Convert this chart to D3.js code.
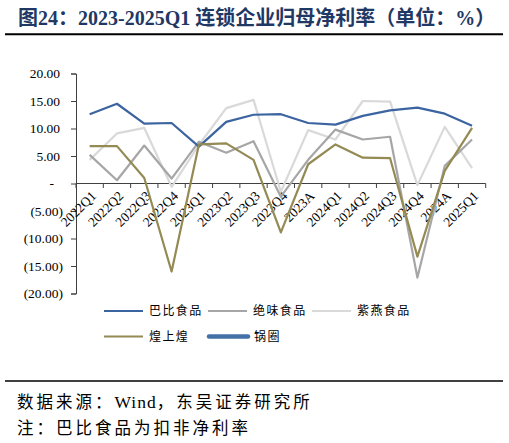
<!DOCTYPE html>
<html><head><meta charset="utf-8">
<script src="https://cdn.jsdelivr.net/npm/d3@7"></script>
<style>
html,body{margin:0;padding:0;background:#fff;}
svg{display:block;}
</style></head>
<body>
<script>
const categories = ["2022Q1","2022Q2","2022Q3","2022Q4","2023Q1","2023Q2","2023Q3","2023Q4","2023A","2024Q1","2024Q2","2024Q3","2024Q4","2024A","2025Q1"];
const babi   = [12.6,14.5,10.9,11.0,6.7,11.2,12.5,12.6,11.0,10.7,12.3,13.3,13.8,12.7,10.5];
const juewei = [5.2,0.6,6.9,0.9,7.6,5.6,7.7,-2.4,4.3,9.8,8.0,8.5,-17.1,3.2,8.0];
const ziyan  = [4.3,9.1,10.1,-0.6,7.0,13.7,15.2,-1.5,9.7,8.0,15.0,14.9,-0.3,10.3,2.8];
const hsh    = [6.8,6.8,1.0,-16.0,7.1,7.3,4.3,-8.9,3.5,7.1,4.7,4.6,-13.3,2.3,10.1];
const guoquan = [];
const yTicks = [20,15,10,5,0,-5,-10,-15,-20];
const seriesNames = ["巴比食品","绝味食品","紫燕食品","煌上煌","锅圈"];
const sourceParts = ["数据来源：", "Wind", "，东吴证券研究所"];
const noteText = "注：巴比食品为扣非净利率";

const W = 509, H = 443;
const svg = d3.select("body").append("svg").attr("width", W).attr("height", H);

const serif = "'Liberation Serif','Times New Roman',serif";
const cjk = "'Noto Sans CJK SC','Liberation Serif',sans-serif";

// Title
const t = svg.append("text").attr("x", 18).attr("y", 24.5)
  .attr("fill", "#1f3864").attr("font-weight", "bold").attr("font-size", 20);
t.append("tspan").attr("font-family", cjk).text("图");
t.append("tspan").attr("font-family", serif).text("24");
t.append("tspan").attr("font-family", cjk).text("：");
t.append("tspan").attr("font-family", serif).text("2023-2025Q1 ");
t.append("tspan").attr("font-family", cjk).text("连锁企业归母净利率（单位：");
t.append("tspan").attr("font-family", serif).text("%");
t.append("tspan").attr("font-family", cjk).text("）");

svg.append("line").attr("x1", 5).attr("x2", 503).attr("y1", 34.3).attr("y2", 34.3)
  .attr("stroke", "#000").attr("stroke-width", 2);
svg.append("line").attr("x1", 5).attr("x2", 503).attr("y1", 381).attr("y2", 381)
  .attr("stroke", "#000").attr("stroke-width", 1.5);

// Scales
const x = d3.scaleBand().domain(categories).range([76, 485.7]);
const y = d3.scaleLinear().domain([-20, 20]).range([293.5, 73.5]);

const axisColor = "#404040";

// Y axis
const yAxis = svg.append("g").attr("transform", "translate(76,0)")
  .call(d3.axisLeft(y).tickValues(yTicks).tickSize(5).tickFormat(() => ""));
yAxis.select(".domain").attr("stroke", axisColor);
yAxis.selectAll(".tick line").attr("stroke", axisColor);

svg.append("g").selectAll("text").data(yTicks).join("text")
  .attr("x", d => d < 0 ? 63 : (d === 0 ? 54 : 60))
  .attr("y", d => y(d)).attr("dy", "0.35em")
  .attr("text-anchor", "end")
  .attr("font-family", serif).attr("font-size", 13.5).attr("fill", "#000")
  .text(d => d === 0 ? "-" : (d < 0 ? "(" + Math.abs(d).toFixed(2) + ")" : d.toFixed(2)));

// X axis at zero
const xAxisG = svg.append("g").attr("transform", `translate(0,${y(0)})`);
xAxisG.append("line").attr("x1", x.range()[0]).attr("x2", x.range()[1])
  .attr("stroke", axisColor).attr("stroke-width", 1);
const bounds = categories.map(c => x(c)).concat([x.range()[1]]);
xAxisG.selectAll("line.tk").data(bounds).join("line").attr("class", "tk")
  .attr("x1", d => d).attr("x2", d => d).attr("y1", 0).attr("y2", 4.5)
  .attr("stroke", axisColor);

svg.append("g").selectAll("text").data(categories).join("text")
  .attr("transform", d => `translate(${x(d) + x.bandwidth() / 2 + 4},${y(0) + 10}) rotate(-45)`)
  .attr("text-anchor", "end").attr("dy", "0.35em")
  .attr("font-family", serif).attr("font-size", 13.5).attr("fill", "#000")
  .text(d => d);

// Lines
const colors = ["#3b64a0", "#a6a6a6", "#d9d9d9", "#948a54", "#4470a8"];
const line = d3.line().x((d, i) => x(categories[i]) + x.bandwidth() / 2).y(d => y(d));
const drawOrder = [[ziyan, colors[2]], [juewei, colors[1]], [babi, colors[0]], [hsh, colors[3]], [guoquan, colors[4]]];
drawOrder.forEach(([data, c]) => {
  if (!data.length) return;
  svg.append("path").datum(data).attr("d", line)
    .attr("fill", "none").attr("stroke", c).attr("stroke-width", 2.2)
    .attr("stroke-linejoin", "round");
});

// Legend
const legendItems = [
  {name: seriesNames[0], c: colors[0], x: 104, y: 311, w: 2},
  {name: seriesNames[1], c: colors[1], x: 208, y: 311, w: 2},
  {name: seriesNames[2], c: colors[2], x: 312, y: 311, w: 2},
  {name: seriesNames[3], c: colors[3], x: 104, y: 336.5, w: 2},
  {name: seriesNames[4], c: colors[4], x: 209, y: 336.5, w: 4.5}
];
const lg = svg.append("g");
legendItems.forEach(it => {
  lg.append("line").attr("x1", it.x).attr("x2", it.x + 39).attr("y1", it.y).attr("y2", it.y)
    .attr("stroke", it.c).attr("stroke-width", it.w).attr("stroke-linecap", it.w > 3 ? "round" : "butt");
  lg.append("text").attr("x", it.x + 45).attr("y", it.y).attr("dy", "0.36em")
    .attr("font-family", cjk).attr("font-size", 12).attr("letter-spacing", 1.4)
    .attr("fill", "#000").text(it.name);
});

// Footer
svg.append("text").attr("x", 17).attr("y", 408).attr("font-family", cjk)
  .attr("font-size", 16.5).attr("fill", "#000")
  .selectAll("tspan").data(sourceParts).join("tspan")
  .attr("font-family", (d, i) => i === 1 ? serif : cjk)
  .attr("font-size", (d, i) => i === 1 ? 17.5 : 16.5)
  .attr("letter-spacing", (d, i) => i === 1 ? 1 : 3)
  .text(d => d);
svg.append("text").attr("x", 17).attr("y", 434).attr("font-family", cjk)
  .attr("font-size", 16.5).attr("letter-spacing", 3).attr("fill", "#000").text(noteText);
</script>
</body></html>
